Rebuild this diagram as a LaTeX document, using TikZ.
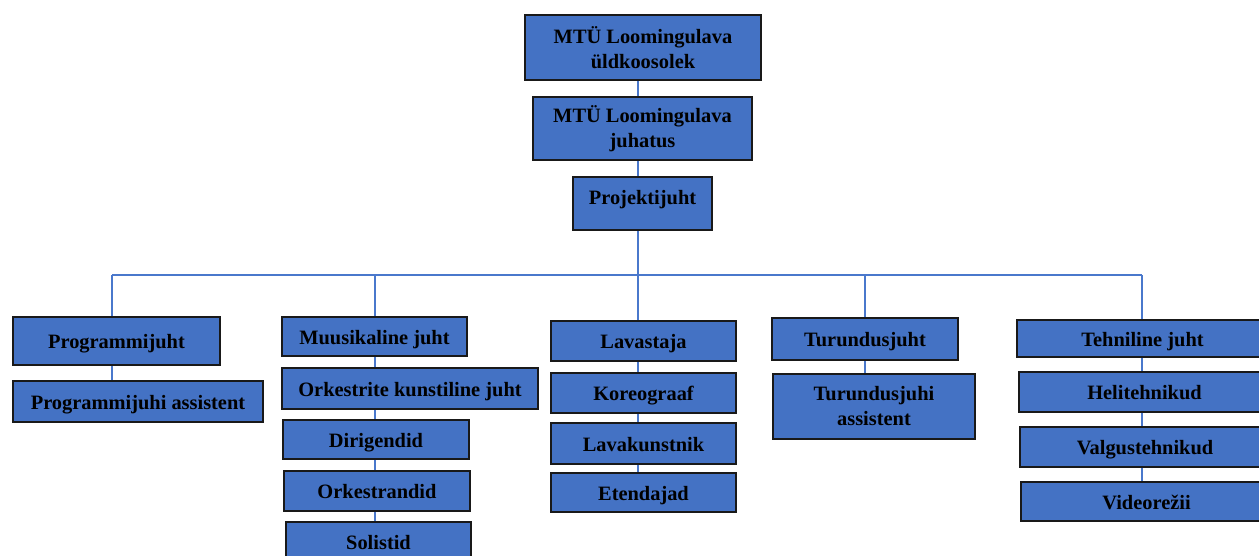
\documentclass[tikz,border=0pt]{standalone}
\usepackage{fontspec}
\setmainfont{Liberation Serif}
\definecolor{boxblue}{HTML}{4472C4}
\definecolor{lineblue}{HTML}{4A78CC}
\begin{document}
\begin{tikzpicture}[x=1pt,y=-1pt,
  box/.style={draw=black!90, line width=1.5pt, fill=boxblue, inner sep=0pt,
    font=\bfseries\fontsize{20.4}{25}\selectfont, text=black, align=center,
    text height=17pt, text depth=1.5pt},
  conn/.style={draw=lineblue, line width=2pt}]
\useasboundingbox (0,0) rectangle (1259,555);
\clip (0,0) rectangle (1259,555);
% top chain
\node[box, minimum width=236, minimum height=65, text height=, text depth=] (top) at (643,47.5) {MTÜ Loomingulava\\üldkoosolek};
\node[box, minimum width=219, minimum height=63, text height=, text depth=] (board) at (642.5,128.5) {MTÜ Loomingulava\\juhatus};
\node[box, minimum width=139, minimum height=53, text height=14pt, text depth=13pt] (proj) at (642.5,203.5) {Projektijuht};
% column 1
\node[box, minimum width=207, minimum height=48] (prog) at (116.5,341) {Programmijuht};
\node[box, minimum width=250, minimum height=41] (proga) at (138,401.5) {Programmijuhi assistent};
% column 2
\node[box, minimum width=185, minimum height=39] (muus) at (374.5,336.5) {Muusikaline juht};
\node[box, minimum width=256, minimum height=41] (ork) at (410,388.5) {Orkestrite kunstiline juht};
\node[box, minimum width=186, minimum height=39] (dir) at (376,439.5) {Dirigendid};
\node[box, minimum width=186, minimum height=40] (orkd) at (377,491) {Orkestrandid};
\node[box, minimum width=185, minimum height=40] (sol) at (378.5,542) {Solistid};
% column 3
\node[box, minimum width=185, minimum height=40] (lav) at (643.5,341) {Lavastaja};
\node[box, minimum width=185, minimum height=40] (kor) at (643.5,393) {Koreograaf};
\node[box, minimum width=185, minimum height=41] (lk) at (643.5,443.5) {Lavakunstnik};
\node[box, minimum width=185, minimum height=39] (ete) at (643.5,492.5) {Etendajad};
% column 4
\node[box, minimum width=186, minimum height=42] (tur) at (865,339) {Turundusjuht};
\node[box, minimum width=202, minimum height=65, text height=, text depth=] (tura) at (874,406.5) {Turundusjuhi\\assistent};
% column 5
\node[box, minimum width=251, minimum height=37] (teh) at (1142.5,338.5) {Tehniline juht};
\node[box, minimum width=251, minimum height=40] (hel) at (1144.5,392) {Helitehnikud};
\node[box, minimum width=250, minimum height=40] (val) at (1145,447) {Valgustehnikud};
\node[box, minimum width=251, minimum height=39] (vid) at (1146.5,501.5) {Videorežii};
% connector coordinates
\coordinate (m) at (638,0);
\coordinate (bus) at (638,275);
\coordinate (c1) at (112,275);
\coordinate (c2) at (375,275);
\coordinate (c3) at (638,275);
\coordinate (c4) at (865,275);
\coordinate (c5) at (1142,275);
% connectors
\draw[conn] (top.south -| m) -- (board.north -| m);
\draw[conn] (board.south -| m) -- (proj.north -| m);
\draw[conn] (proj.south -| m) -- (bus);
\draw[conn] (c1) -- (c5);
\draw[conn] (c1) -- (prog.north -| c1);
\draw[conn] (c2) -- (muus.north -| c2);
\draw[conn] (c3) -- (lav.north -| c3);
\draw[conn] (c4) -- (tur.north -| c4);
\draw[conn] (c5) -- (teh.north -| c5);
\draw[conn] (prog.south -| c1) -- (proga.north -| c1);
\draw[conn] (muus.south -| c2) -- (ork.north -| c2);
\draw[conn] (ork.south -| c2) -- (dir.north -| c2);
\draw[conn] (dir.south -| c2) -- (orkd.north -| c2);
\draw[conn] (orkd.south -| c2) -- (sol.north -| c2);
\draw[conn] (lav.south -| c3) -- (kor.north -| c3);
\draw[conn] (kor.south -| c3) -- (lk.north -| c3);
\draw[conn] (lk.south -| c3) -- (ete.north -| c3);
\draw[conn] (tur.south -| c4) -- (tura.north -| c4);
\draw[conn] (teh.south -| c5) -- (hel.north -| c5);
\draw[conn] (hel.south -| c5) -- (val.north -| c5);
\draw[conn] (val.south -| c5) -- (vid.north -| c5);
\end{tikzpicture}
\end{document}
